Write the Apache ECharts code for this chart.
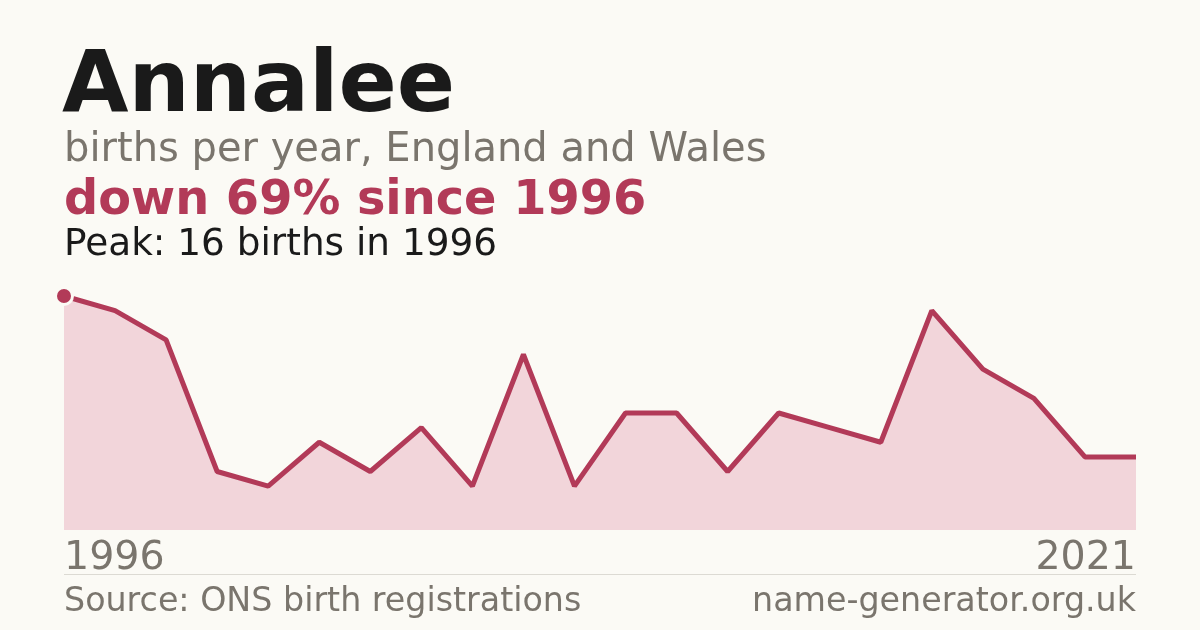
<!DOCTYPE html>
<html>
<head>
<meta charset="utf-8">
<script src="https://cdn.jsdelivr.net/npm/echarts@6/dist/echarts.min.js"></script>
<style>
  html, body { margin: 0; padding: 0; background: #fbfaf5; }
  #chart { width: 1200px; height: 630px; }
</style>
</head>
<body>
<div id="chart"></div>
<script>
// years with registrations (a few years missing from the series)
var years = ['1996','1997','1998','1999','2000','2001','2002','2003','2004','2006','2007',
             '2008','2009','2011','2012','2013','2014','2016','2017','2018','2020','2021'];
var births = [16, 15, 13, 4, 3, 6, 4, 7, 3, 12, 3, 8, 8, 4, 8, 7, 6, 15, 11, 9, 5, 5];

var red = '#b23a58';
var grey = '#7a756d';
var font = 'DejaVu Sans';

var chart = echarts.init(document.getElementById('chart'));

var option = {
    backgroundColor: '#fbfaf5',
    animation: false,
    title: [
        { text: 'Annalee', left: 57, top: 41,
          textStyle: { fontFamily: font, fontSize: 86, fontWeight: 'bold', color: '#1a1a1a' } },
        { text: 'births per year, England and Wales', left: 59, top: 126,
          textStyle: { fontFamily: font, fontSize: 40, fontWeight: 'normal', color: grey } },
        { text: 'down 69% since 1996', left: 59, top: 173,
          textStyle: { fontFamily: font, fontSize: 47.8, fontWeight: 'bold', color: red } },
        { text: 'Peak: 16 births in 1996', left: 59, top: 222,
          textStyle: { fontFamily: font, fontSize: 37.4, fontWeight: 'normal', color: '#1a1a1a' } },
        { text: 'Source: ONS birth registrations', left: 59, top: 581,
          textStyle: { fontFamily: font, fontSize: 33.3, fontWeight: 'normal', color: grey } },
        { text: 'name-generator.org.uk', right: 59, top: 581,
          textStyle: { fontFamily: font, fontSize: 33.3, fontWeight: 'normal', color: grey } }
    ],
    grid: { left: 64, right: 64, top: 296, bottom: 100 },
    xAxis: {
        type: 'category',
        data: years,
        boundaryGap: false,
        axisLine: { show: false },
        axisTick: { show: false },
        splitLine: { show: false },
        axisLabel: {
            interval: function (i) { return i === 0 || i === years.length - 1; },
            showMinLabel: true,
            showMaxLabel: true,
            alignMinLabel: 'left',
            alignMaxLabel: 'right',
            margin: 9,
            fontFamily: font,
            fontSize: 39.5,
            color: grey
        }
    },
    yAxis: {
        type: 'value',
        min: 0,
        max: 16,
        show: false,
        splitLine: { show: false }
    },
    graphic: [
        { type: 'line', shape: { x1: 64, y1: 574.5, x2: 1136, y2: 574.5 },
          style: { stroke: '#dcdad3', lineWidth: 1 } }
    ],
    series: [{
        type: 'line',
        data: births,
        smooth: false,
        symbol: 'circle',
        symbolSize: function (v, p) { return p.dataIndex === 0 ? 17 : 0; },
        showSymbol: true,
        itemStyle: { color: red, borderColor: '#fbfaf5', borderWidth: 3 },
        lineStyle: { color: red, width: 5 },
        areaStyle: { color: '#f2d5da', opacity: 1 },
        z: 3
    }]
};

chart.setOption(option);
</script>
</body>
</html>
